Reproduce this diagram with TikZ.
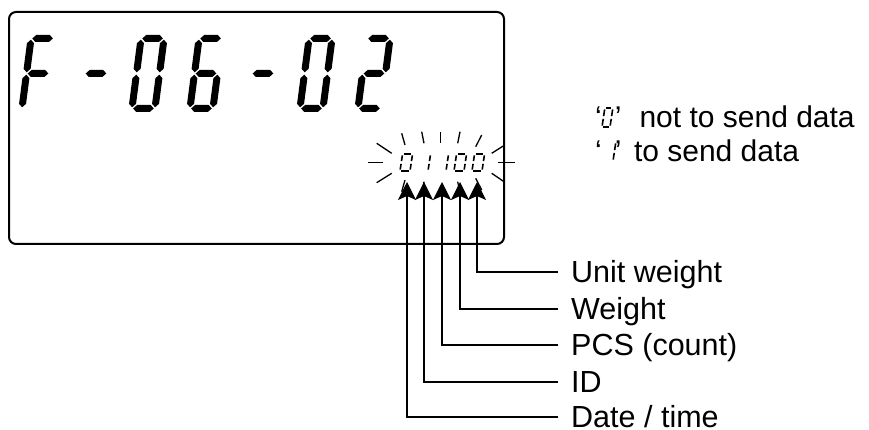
\documentclass[tikz,border=0pt]{standalone}
\usepackage{fontspec}
\setmainfont{Liberation Sans}
\usetikzlibrary{arrows.meta}
% big LCD digit geometry
\def\BW{30}\def\BH{77}\def\BT{7}\def\BG{1.2}
\newcommand\hseg[1]{\fill ({\BT/2+\BG},{#1}) -- ({\BT+\BG},{#1+\BT/2}) -- ({\BW-\BT-\BG},{#1+\BT/2}) -- ({\BW-\BT/2-\BG},{#1}) -- ({\BW-\BT-\BG},{#1-\BT/2}) -- ({\BT+\BG},{#1-\BT/2}) -- cycle;}
\newcommand\vseg[3]{\fill ({#1},{#2+\BG}) -- ({#1+\BT/2},{#2+\BT/2+\BG}) -- ({#1+\BT/2},{#3-\BT/2-\BG}) -- ({#1},{#3-\BG}) -- ({#1-\BT/2},{#3-\BT/2-\BG}) -- ({#1-\BT/2},{#2+\BT/2+\BG}) -- cycle;}
\newcommand\bsega{\hseg{\BH-\BT/2}}
\newcommand\bsegd{\hseg{\BT/2}}
\newcommand\bsegg{\hseg{\BH/2}}
\newcommand\bsegf{\vseg{\BT/2}{\BH/2}{\BH-\BT/2}}
\newcommand\bsege{\vseg{\BT/2}{\BT/2}{\BH/2}}
\newcommand\bsegb{\vseg{\BW-\BT/2}{\BH/2}{\BH-\BT/2}}
\newcommand\bsegc{\vseg{\BW-\BT/2}{\BT/2}{\BH/2}}
\newcommand\bigdigit[2]{\begin{scope}[shift={(#1,318)},xslant=0.13]\foreach \s in {#2}{\csname bseg\s\endcsname}\end{scope}}
% small LCD digit (thin segments)
\def\SG{1.4}
\newcommand\ssega{\draw (\SG,\SH) -- (\SW-\SG,\SH);}
\newcommand\ssegd{\draw (\SG,0) -- (\SW-\SG,0);}
\newcommand\ssegg{\draw (\SG,\SH/2) -- (\SW-\SG,\SH/2);}
\newcommand\ssegf{\draw (0,\SH/2+\SG) -- (0,\SH-\SG);}
\newcommand\ssege{\draw (0,\SG) -- (0,\SH/2-\SG);}
\newcommand\ssegb{\draw (\SW,\SH/2+\SG) -- (\SW,\SH-\SG);}
\newcommand\ssegc{\draw (\SW,\SG) -- (\SW,\SH/2-\SG);}
\newcommand\smalldigit[5]{\begin{scope}[shift={(#1,#2)},xslant=0.15,line width=1.6pt]\def\SW{#3}\def\SH{#4}\foreach \s in {#5}{\csname sseg\s\endcsname}\end{scope}}
\tikzset{
  conn/.style={line width=1.3pt},
  arr/.style={-{Stealth[length=18pt,width=18pt,inset=4pt]}},
  ray/.style={line width=1.3pt},
  lbl/.style={anchor=west,inner xsep=13pt,inner ysep=0pt,text height=22pt,text depth=0pt,font=\fontsize{30.5pt}{30.5pt}\selectfont},
  note/.style={anchor=base west,inner sep=0pt,font=\fontsize{30pt}{30pt}\selectfont},
}
\begin{document}
\begin{tikzpicture}[x=1pt,y=1pt]
\useasboundingbox (0,0) rectangle (869,430);
% display frame
\node[draw,line width=2pt,rounded corners=7pt,minimum width=495pt,minimum height=232pt,anchor=south west,inner sep=0pt] (disp) at (8,185) {};
% big digits F-06-02
\bigdigit{18}{a,e,f,g}
\bigdigit{76}{g}
\bigdigit{128}{a,b,c,d,e,f}
\bigdigit{186}{a,c,d,e,f,g}
\bigdigit{243}{g}
\bigdigit{296}{a,b,c,d,e,f}
\bigdigit{354}{a,b,g,e,d}
% small digits 01100
\smalldigit{400}{259}{10}{17}{a,b,c,d,e,f}
\smalldigit{418}{259}{10}{17}{b,c}
\smalldigit{436}{259}{10}{17}{b,c}
\smalldigit{454}{259}{10}{17}{a,b,c,d,e,f}
\smalldigit{472}{259}{10}{17}{a,b,c,d,e,f}
% blinking rays
\draw[ray] (401.7,296.7) -- (405,285);
\draw[ray] (421.7,298.3) -- (424,286.7);
\draw[ray] (440.7,298.3) -- (440.7,286.7);
\draw[ray] (460,298.3) -- (457.7,286.7);
\draw[ray] (481.7,295) -- (475.7,283.3);
\draw[ray] (376.7,286.7) -- (391.7,276.7);
\draw[ray] (368.3,267.7) -- (383.3,267.7);
\draw[ray] (376.7,247.3) -- (391.7,256.7);
\draw[ray] (491.7,276.7) -- (504,284.5);
\draw[ray] (498.3,267.3) -- (515,267.3);
\draw[ray] (491.7,256.7) -- (504,248.3);
\draw[ray] (401.7,238.3) -- (405,250);
\draw[ray] (421.7,236.7) -- (424,248.3);
\draw[ray] (460,236.7) -- (457.7,248.3);
\draw[ray] (481.7,240) -- (475.7,251.7);
% arrow tips
\coordinate (t1) at (407,248);
\coordinate (t2) at (424,248);
\coordinate (t3) at (442,248);
\coordinate (t4) at (460,248);
\coordinate (t5) at (477,248);
% labels
\node[lbl] (l5) at (558,158) {Unit weight};
\node[lbl] (l4) at (558,121) {Weight};
\node[lbl] (l3) at (558,85) {PCS (count)};
\node[lbl] (l2) at (558,48) {ID};
\node[lbl] (l1) at (558,13) {Date / time};
\draw[conn,arr] (l5.west) -| (t5);
\draw[conn,arr] (l4.west) -| (t4);
\draw[conn,arr] (l3.west) -| (t3);
\draw[conn,arr] (l2.west) -| (t2);
\draw[conn,arr] (l1.west) -| (t1);
% notes
\node[note] (n0) at (595,302) {‘\hspace{13pt}’\hspace{18pt}not to send data};
\node[note] (n1) at (595,268) {‘\hspace{13pt}’\hspace{12.5pt}to send data};
\smalldigit{602}{303}{8}{19}{a,b,c,d,e,f}
\smalldigit{605}{269}{8}{19}{b,c}
\end{tikzpicture}
\end{document}
